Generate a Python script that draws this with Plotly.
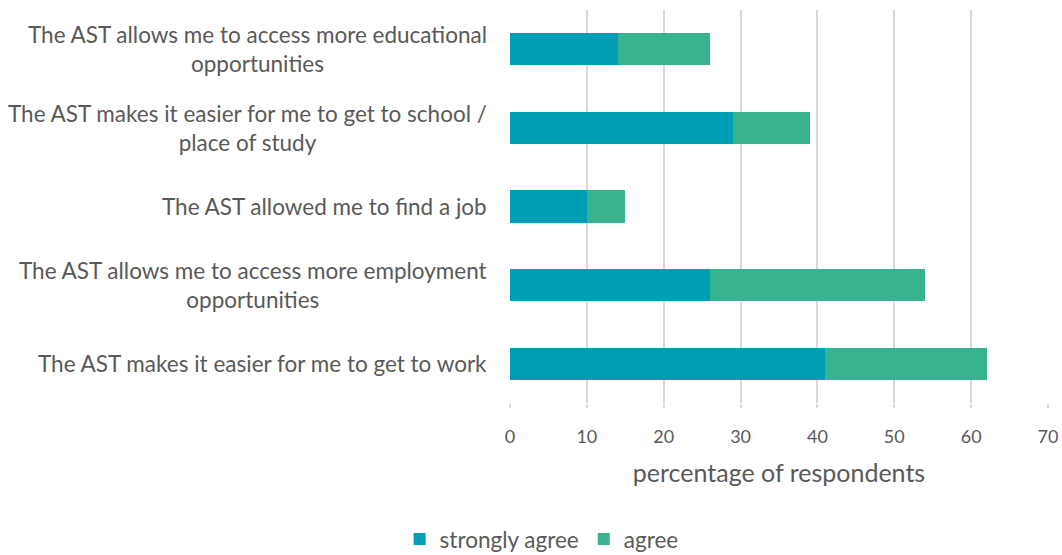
import plotly.graph_objects as go

categories = [
    "The AST allows me to access more educational<br>opportunities",
    "The AST makes it easier for me to get to school /<br>place of study",
    "The AST allowed me to find a job",
    "The AST allows me to access more employment<br>opportunities",
    "The AST makes it easier for me to get to work",
]
strongly_agree = [14, 29, 10, 26, 41]
agree = [12, 10, 5, 28, 21]
x_ticks = [0, 10, 20, 30, 40, 50, 60, 70]

TEXT = "#595959"
FONT = "Lato"

fig = go.Figure()
fig.add_trace(go.Bar(y=categories, x=strongly_agree, name="strongly agree", orientation="h",
                     marker=dict(color="#009EB4", line=dict(width=0)), width=0.41))
fig.add_trace(go.Bar(y=categories, x=agree, name="agree", orientation="h",
                     marker=dict(color="#37B38F", line=dict(width=0)), width=0.41))

for c in categories:
    fig.add_annotation(x=0, xref="paper", y=c, yref="y", text=c, showarrow=False,
                       xanchor="right", align="center", xshift=-21,
                       font=dict(family=FONT, size=22.5, color=TEXT))

fig.update_layout(
    width=1062, height=555,
    margin=dict(l=510, r=14, t=10, b=152, autoexpand=False),
    barmode="stack",
    bargap=0.59,
    plot_bgcolor="white", paper_bgcolor="white",
    font=dict(family=FONT, color=TEXT),
    showlegend=True,
    legend=dict(orientation="h", xref="container", x=0.51, xanchor="center",
                yref="container", y=0.067, yanchor="top", traceorder="normal",
                itemwidth=30,
                font=dict(family=FONT, size=22.5, color=TEXT)),
    xaxis=dict(range=[0, 70], tickvals=x_ticks, showgrid=True, gridcolor="#D9D9D9", gridwidth=2,
               zeroline=False, showline=False, ticks="outside", ticklen=4, tickcolor="#D9D9D9",
               tickwidth=2, ticklabelstandoff=13,
               tickfont=dict(family=FONT, size=18, color=TEXT),
               title=dict(text="percentage of respondents", standoff=18,
                          font=dict(family=FONT, size=25, color=TEXT))),
    yaxis=dict(autorange="reversed", showticklabels=False, showgrid=False, zeroline=False,
               showline=False, ticks=""),
)

fig.write_html("out.html")
